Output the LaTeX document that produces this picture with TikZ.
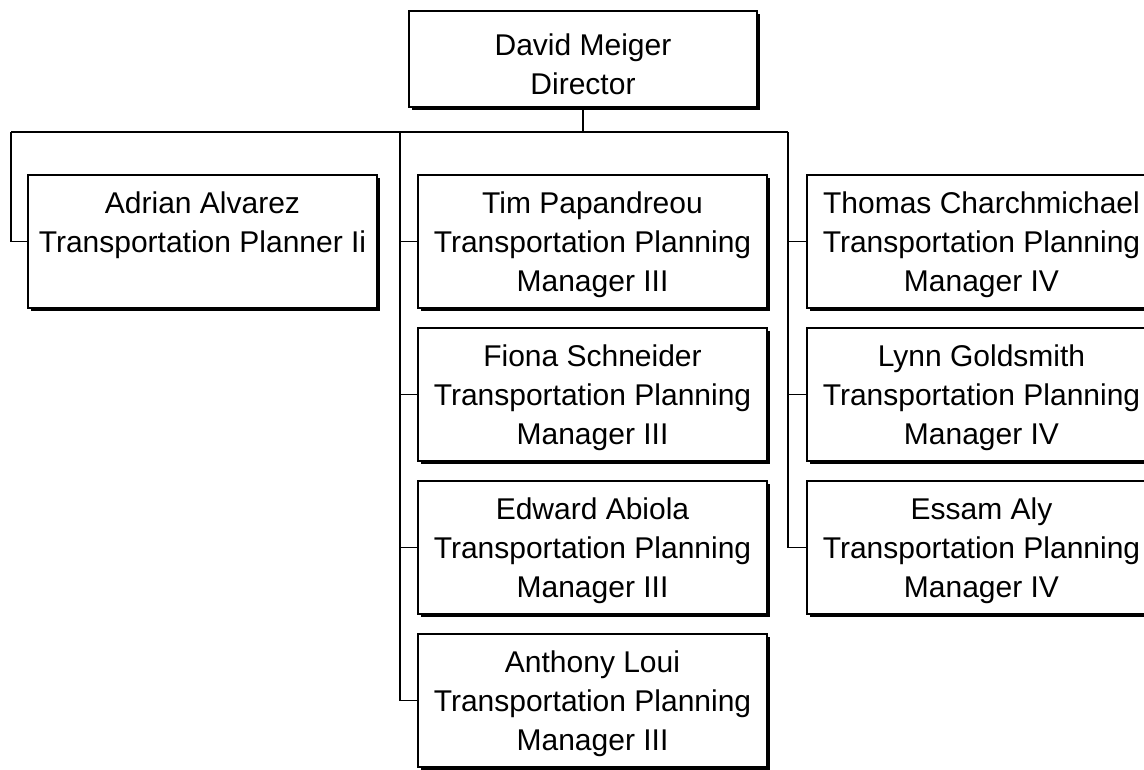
\documentclass[tikz,border=0pt]{standalone}
\usepackage{fontspec}
\setmainfont{Liberation Sans}
\usetikzlibrary{shadows}
\begin{document}
\begin{tikzpicture}[x=1pt,y=-1pt,
  box/.style={draw, line width=2.1pt, fill=white, inner sep=0pt, outer sep=0pt,
    minimum width=349pt, minimum height=133pt,
    drop shadow={shadow xshift=2.8pt, shadow yshift=-2.8pt, fill=black, opacity=1}},
  dirbox/.style={box, minimum width=348pt, minimum height=96pt},
  lbl/.style={font=\fontsize{30}{39}\selectfont, align=center, inner sep=0pt, anchor=north},
  conn/.style={line width=1.8pt}]
\useasboundingbox (0,0) rectangle (1144,770);
% boxes
\node[dirbox] (dir) at (583,59) {};
\node[lbl, yshift=-22.5pt] (tdir) at (dir.north) {David Meiger\\Director};
\node[box] (adrian) at (202.5,241.5) {};
\node[lbl, yshift=-16.5pt] (tadrian) at (adrian.north) {Adrian Alvarez\\Transportation Planner Ii};
\node[box] (tim) at (592.5,241.5) {};
\node[lbl, yshift=-16.5pt] (ttim) at (tim.north) {Tim Papandreou\\Transportation Planning\\Manager III};
\node[box] (fiona) at (592.5,394.5) {};
\node[lbl, yshift=-16.5pt] (tfiona) at (fiona.north) {Fiona Schneider\\Transportation Planning\\Manager III};
\node[box] (edward) at (592.5,547.5) {};
\node[lbl, yshift=-16.5pt] (tedward) at (edward.north) {Edward Abiola\\Transportation Planning\\Manager III};
\node[box] (anthony) at (592.5,700.5) {};
\node[lbl, yshift=-16.5pt] (tanthony) at (anthony.north) {Anthony Loui\\Transportation Planning\\Manager III};
\node[box] (thomas) at (981.5,241.5) {};
\node[lbl, yshift=-16.5pt] (tthomas) at (thomas.north) {Thomas Charchmichael\\Transportation Planning\\Manager IV};
\node[box] (lynn) at (981.5,394.5) {};
\node[lbl, yshift=-16.5pt] (tlynn) at (lynn.north) {Lynn Goldsmith\\Transportation Planning\\Manager IV};
\node[box] (essam) at (981.5,547.5) {};
\node[lbl, yshift=-16.5pt] (tessam) at (essam.north) {Essam Aly\\Transportation Planning\\Manager IV};
% connectors
\coordinate (jL) at (11,132);
\coordinate (jM) at (400,132);
\coordinate (jR) at (788,132);
\draw[conn] (jL) -- (jR);
\draw[conn] (dir.south) -- (dir.south |- jM);
\draw[conn] (adrian.west) -| (jL);
\draw[conn] (anthony.west) -| (jM);
\draw[conn] (tim.west) -- (tim.west -| jM);
\draw[conn] (fiona.west) -- (fiona.west -| jM);
\draw[conn] (edward.west) -- (edward.west -| jM);
\draw[conn] (essam.west) -| (jR);
\draw[conn] (thomas.west) -- (thomas.west -| jR);
\draw[conn] (lynn.west) -- (lynn.west -| jR);
\end{tikzpicture}
\end{document}
